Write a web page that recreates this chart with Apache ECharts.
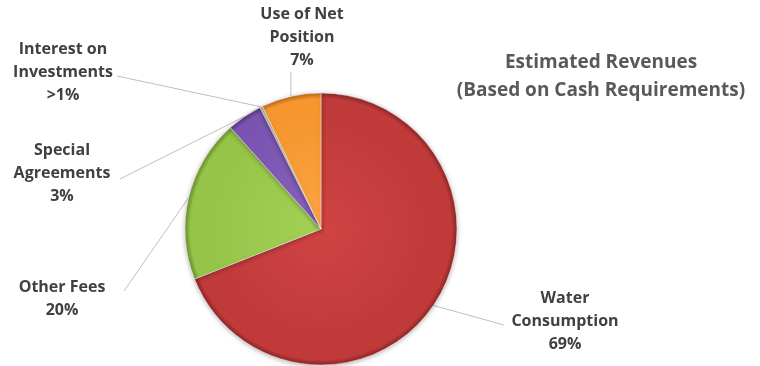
<!DOCTYPE html>
<html>
<head>
<meta charset="utf-8">
<script src="https://cdn.jsdelivr.net/npm/echarts@6/dist/echarts.min.js"></script>
<style>
  html, body { margin: 0; padding: 0; background: #fff; }
  #chart { width: 760px; height: 366px; }
</style>
</head>
<body>
<div id="chart"></div>
<script>
// slices, clockwise from 12 o'clock
var categories = ['Water\nConsumption', 'Other Fees', 'Special\nAgreements', 'Interest on\nInvestments', 'Use of Net\nPosition']
var values = [69, 19.4, 4.2, 0.3, 7.1]
var percentLabels = ['69%', '20%', '3%', '>1%', '7%']
var colors = [
  ['#d04343', '#c03a3a', '#8e2626'],
  ['#a3d156', '#95c448', '#6a8f2c'],
  ['#8a62c0', '#7a54b0', '#53367e'],
  ['#e2ddd2', '#cfc8ba', '#a8a090'],
  ['#fba444', '#f5962e', '#b8681a']
]

// where each label sits, and where its leader line ends
var labelSpots = [
  {x: 565, y: 321, end: [504, 325]},
  {x: 62, y: 299, end: [124, 291]},
  {x: 62, y: 173, end: [120, 179]},
  {x: 63, y: 72, end: [117, 76]},
  {x: 302, y: 37, end: null}
]

var pieCenter = [321, 229]
var pieRadius = 136

var chart = echarts.init(document.getElementById('chart'))

var pieData = categories.map(function (name, i) {
  return {
    name: name,
    value: values[i],
    itemStyle: {
      color: {
        type: 'radial', x: pieCenter[0], y: pieCenter[1], r: pieRadius, global: true,
        colorStops: [
          {offset: 0, color: colors[i][0]},
          {offset: 0.85, color: colors[i][1]},
          {offset: 0.96, color: colors[i][1]},
          {offset: 1, color: colors[i][2]}
        ]
      }
    }
  }
})

chart.setOption({
  animation: false,
  title: {
    text: 'Estimated Revenues\n(Based on Cash Requirements)',
    left: 596,
    top: 44,
    textAlign: 'center',
    textStyle: {
      color: '#595959',
      fontFamily: 'Open Sans',
      fontWeight: 'bold',
      fontSize: 19,
      lineHeight: 28
    }
  },
  series: [
    {
      type: 'pie',
      center: pieCenter,
      radius: pieRadius,
      startAngle: 90,
      clockwise: true,
      data: pieData,
      itemStyle: {
        borderColor: 'rgba(255,255,255,0.45)',
        borderWidth: 1,
        shadowBlur: 5,
        shadowColor: 'rgba(0,0,0,0.3)',
        shadowOffsetY: 1
      },
      label: {
        show: true,
        formatter: function (p) {
          return p.name + '\n' + percentLabels[p.dataIndex]
        },
        color: '#404040',
        fontFamily: 'Open Sans',
        fontWeight: 'bold',
        fontSize: 16,
        lineHeight: 23,
        align: 'center'
      },
      labelLine: {
        show: true,
        lineStyle: {color: '#bfbfbf', width: 1}
      },
      labelLayout: function (params) {
        var spot = labelSpots[params.dataIndex]
        var pts = params.labelLinePoints
        var start = pts && pts[0]
        var out = {
          x: spot.x,
          y: spot.y,
          align: 'center',
          verticalAlign: 'middle'
        }
        if (start) {
          var end = spot.end || [start[0], 72]
          out.labelLinePoints = [start, end, end]
        }
        return out
      },
      emphasis: {disabled: true}
    }
  ]
})
</script>
</body>
</html>
